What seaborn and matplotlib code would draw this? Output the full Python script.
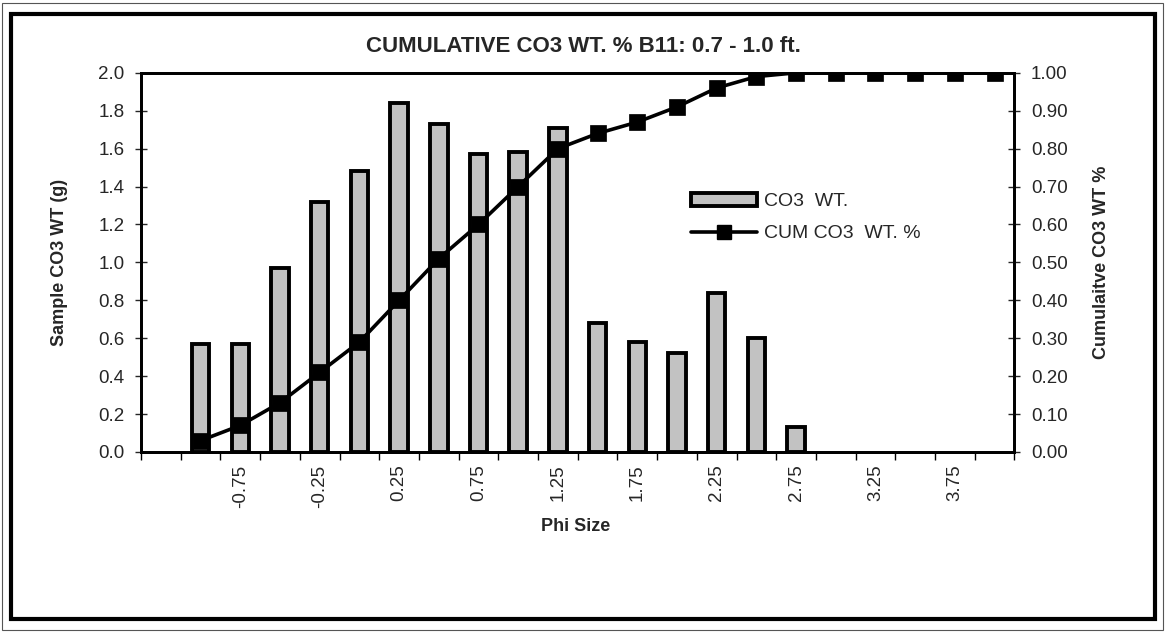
#!/usr/bin/env python
""" Cumulative CO3 weight by phi size, bars + cumulative line """

import numpy as np
import pandas as pd
import seaborn as sns
import matplotlib
matplotlib.use("Agg")
import matplotlib.pyplot as plt
from matplotlib.patches import Patch, Rectangle
from matplotlib.lines import Line2D

# phi size classes (first class has no data, it is blank in the sheet)
phi = ["", "-1.00", "-0.75", "-0.50", "-0.25", "0.00", "0.25", "0.50",
       "0.75", "1.00", "1.25", "1.50", "1.75", "2.00", "2.25", "2.50",
       "2.75", "3.00", "3.25", "3.50", "3.75", "4.00"]
# sample CO3 weight (g)
co3_wt = [np.nan, 0.57, 0.57, 0.97, 1.32, 1.48, 1.84, 1.73, 1.57, 1.58,
          1.71, 0.68, 0.58, 0.52, 0.84, 0.60, 0.13, 0.0, 0.0, 0.0, 0.0, 0.0]
# cumulative CO3 weight fraction
cum_pct = [np.nan, 0.03, 0.07, 0.13, 0.21, 0.29, 0.40, 0.51, 0.60, 0.70,
           0.80, 0.84, 0.87, 0.91, 0.96, 0.99, 1.00, 1.00, 1.00, 1.00,
           1.00, 1.00]
left_ticks = [0.0, 0.2, 0.4, 0.6, 0.8, 1.0, 1.2, 1.4, 1.6, 1.8, 2.0]
right_ticks = [0.0, 0.1, 0.2, 0.3, 0.4, 0.5, 0.6, 0.7, 0.8, 0.9, 1.0]

BAR_COLOR = "#c2c2c2"


def main():
    """ Main function """
    sns.set_style("ticks")
    plt.rcParams['font.family'] = ['Liberation Sans', 'DejaVu Sans']

    df = pd.DataFrame({"phi": phi, "co3": co3_wt, "cum": cum_pct})

    fig = plt.figure(figsize=(11.66, 6.33), dpi=100)
    ax = fig.add_axes([0.121, 0.286, 0.749, 0.599])

    # Bars
    sns.barplot(data=df, x="phi", y="co3", order=phi, color=BAR_COLOR,
                saturation=1, width=0.44, edgecolor="black", linewidth=2.8,
                errorbar=None, ax=ax)
    # empty classes: no outline, like the spreadsheet
    for bar in ax.patches:
        if not bar.get_height():
            bar.set_linewidth(0)

    # Cumulative line on second axis
    ax2 = ax.twinx()
    sns.pointplot(data=df, x="phi", y="cum", order=phi, color="black",
                  markers="s", markersize=10, linewidth=2.6,
                  errorbar=None, ax=ax2)

    ax.set_xlim(-0.5, len(phi) - 0.5)
    ax.set_ylim(0, 2.0)
    ax2.set_ylim(0, 1.0)

    # Axis ticks
    ax.set_yticks(left_ticks)
    ax.set_yticklabels([f"{v:.1f}" for v in left_ticks])
    ax2.set_yticks(right_ticks)
    ax2.set_yticklabels([f"{v:.2f}" for v in right_ticks])

    ax.set_xticks(range(len(phi)))
    ax.set_xticklabels([p if i % 2 == 0 else "" for i, p in enumerate(phi)],
                       rotation=90)
    ax.set_xticks(np.arange(-0.5, len(phi)), minor=True)
    ax.tick_params(axis="x", which="major", length=0, pad=9, labelsize=13.5)
    ax.tick_params(axis="x", which="minor", length=6, width=1,
                   direction="out", color="black")
    ax.tick_params(axis="y", length=8, width=1, direction="inout",
                   labelsize=13.5, pad=8)
    ax2.tick_params(axis="y", length=8, width=1, direction="inout",
                    labelsize=13.5, pad=8)

    for a in (ax, ax2):
        for sp in a.spines.values():
            sp.set_visible(True)
            sp.set_linewidth(2)
            sp.set_color("black")

    # Labels
    ax.set_ylabel("Sample CO3 WT (g)", fontsize=13, fontweight="bold",
                  labelpad=22)
    ax2.set_ylabel("Cumulaitve CO3 WT %", fontsize=13, fontweight="bold",
                   labelpad=18)
    ax.set_xlabel("Phi Size", fontsize=13, fontweight="bold")
    ax.xaxis.set_label_coords(0.497, -0.175)
    fig.text(0.5, 1 - 46 / 633, "CUMULATIVE CO3 WT. % B11: 0.7 - 1.0 ft.",
             ha="center", va="center", fontsize=16, fontweight="bold")

    # Legend
    handles = [
        Patch(facecolor=BAR_COLOR, edgecolor="black", linewidth=2.8),
        Line2D([], [], color="black", linewidth=2.6, marker="s",
               markersize=10),
    ]
    ax2.legend(handles, ["CO3  WT.", "CUM CO3  WT. %"], loc="upper left",
               bbox_to_anchor=(0.61, 0.73), frameon=False, fontsize=14,
               handlelength=3.4, handleheight=0.7, handletextpad=0.35,
               labelspacing=0.75)

    # Outer chart frame
    fig.patches.append(Rectangle((11 / 1166, 14 / 633), 1144 / 1166,
                                 605 / 633, transform=fig.transFigure,
                                 fill=False, edgecolor="black", linewidth=3))
    fig.patches.append(Rectangle((2 / 1166, 3 / 633), 1161 / 1166,
                                 627 / 633, transform=fig.transFigure,
                                 fill=False, edgecolor="#555555",
                                 linewidth=0.8))

    fig.savefig("out.png", dpi=100)
    plt.close(fig)


if __name__ == '__main__':
    main()
